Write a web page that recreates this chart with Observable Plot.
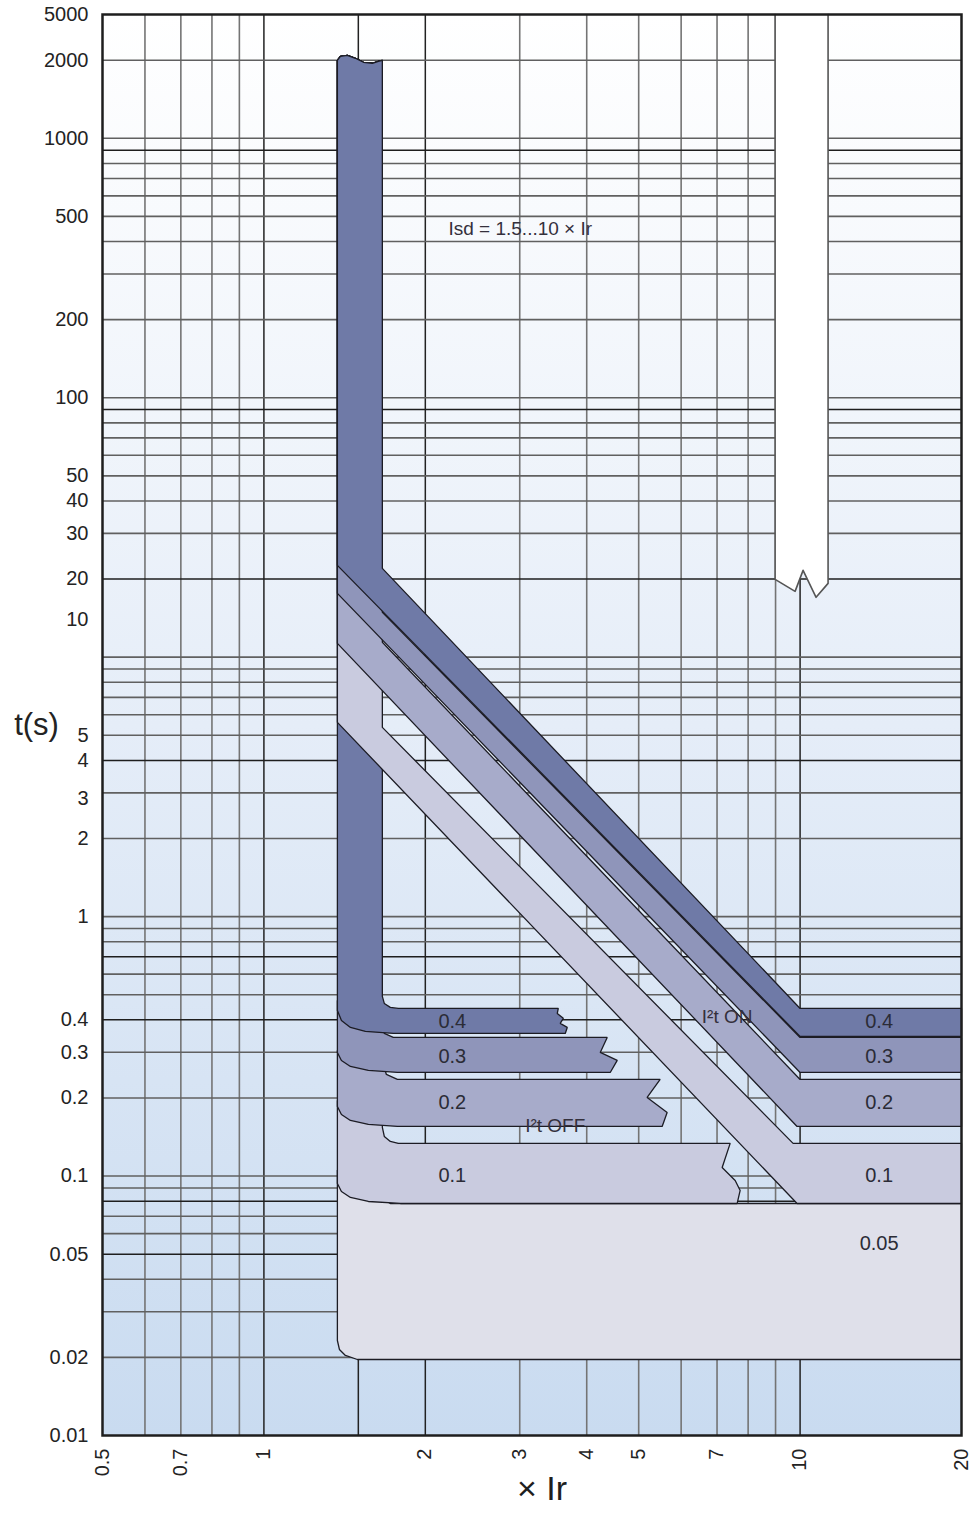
<!DOCTYPE html>
<html><head><meta charset="utf-8">
<script src="https://cdn.jsdelivr.net/npm/d3@7"></script>
<script src="https://cdn.jsdelivr.net/npm/@observablehq/plot@0.6"></script>
<style>
html,body{margin:0;padding:0;background:#fff;overflow:hidden}
#chart svg{display:block}
</style></head><body><div id="chart"></div>
<script>
// ---- axes / ticks ----
const xTicks = [0.5, 0.7, 1, 2, 3, 4, 5, 7, 10, 20];
const yTickLabels = ["5000","2000","1000","500","200","100","50","40","30","20","10","5","4","3","2","1","0.4","0.3","0.2","0.1","0.05","0.02","0.01"];
const yTickAt =     [3000, 2000, 1000, 500, 200, 100, 50, 40, 30, 20, 13.9, 5, 4, 2.86, 2, 1, 0.4, 0.3, 0.2, 0.1, 0.05, 0.02, 0.01];
const gridXMinor = [0.6, 0.7, 0.8, 0.9, 3, 4, 5, 6, 7, 8, 9];
const gridXMajor = [1, 1.5, 2, 10];
const gridYMinor = [2000,1000,800,700,600,500,400,300,200,100,80,70,60,50,40,30,10,9,8,7,6,5,3,2,1,0.9,0.8,0.6,0.5,0.3,0.2,0.1,0.09,0.07,0.06,0.04,0.03,0.02];
const gridYMajor = [900,90,20,4,0.7,0.4,0.08,0.05];

// ---- shapes (x = multiple of Ir, y = seconds) ----
const waveTop = [[1.371,1998],[1.389,2070],[1.431,2089],[1.481,2034],[1.533,1963],[1.593,1946],[1.635,1981],[1.663,1998]];
const isdMaxBar = [[8.983,3000],[8.983,19.95],[9.787,17.93],[10.129,21.61],[10.711,17.01],[11.277,19.25],[11.277,3000]];
const band005 = [[1.371,0.1051],[1.371,0.02324],[1.383,0.02146],[1.419,0.02035],[1.494,0.01963],[20,0.01963],[20,0.0784],[1.721,0.0784],[1.371,0.1051]];
const band01Off = [[1.663,0.1957],[1.663,0.1539],[1.677,0.1421],[1.721,0.1360],[1.781,0.1336],[7.406,0.1336],[7.156,0.1079],[7.567,0.0962],[7.731,0.0880],[7.632,0.0784],[1.797,0.0784],[1.566,0.0798],[1.450,0.0827],[1.395,0.0872],[1.371,0.0936],[1.371,0.1957],[1.663,0.1957]];
const band02Off = [[1.663,0.3050],[1.663,0.2790],[1.692,0.2464],[1.774,0.2357],[5.483,0.2357],[5.185,0.2010],[5.650,0.1759],[5.530,0.1553],[1.774,0.1553],[1.566,0.1581],[1.450,0.1638],[1.395,0.1728],[1.371,0.1855],[1.371,0.3050],[1.663,0.3050]];
const band03Off = [[1.663,0.4753],[1.663,0.3980],[1.677,0.3546],[1.743,0.3422],[4.368,0.3422],[4.239,0.2996],[4.560,0.2790],[4.425,0.2508],[1.774,0.2508],[1.566,0.2553],[1.450,0.2646],[1.395,0.2790],[1.371,0.2996],[1.371,0.4753],[1.663,0.4753]];
const band04OffRest = [[1.663,0.4925],[1.677,0.4628],[1.721,0.4467],[1.781,0.4427],[3.540,0.4427],[3.525,0.4236],[3.617,0.4053],[3.570,0.3875],[3.679,0.3740],[3.648,0.3546],[1.743,0.3546],[1.546,0.3609],[1.450,0.3740],[1.395,0.3980],[1.371,0.4350],[1.371,1998]];
const band01OnRest = [[1.663,5.363],[9.704,0.1336],[20,0.1336],[20,0.0784],[9.872,0.0784],[1.371,5.607],[1.371,1998]];
const band02OnRest = [[1.663,11.41],[10,0.2357],[20,0.2357],[20,0.1553],[9.872,0.1553],[1.371,11.30],[1.371,1998]];
const band03OnRest = [[1.663,14.88],[10,0.3422],[20,0.3422],[20,0.2508],[10,0.2508],[1.371,17.62],[1.371,1998]];
const band04OnRest = [[1.663,21.99],[10,0.4427],[20,0.4427],[20,0.3453],[10,0.3453],[1.371,22.59],[1.371,1998]];

const bandColors = {"0.4":"#6f7aa7","0.3":"#8f95ba","0.2":"#a7abca","0.1":"#c9cbdf","0.05":"#dfe0ea"};

// ---- labels ----
const offLabelText = ["0.4","0.3","0.2","0.1"];
const offLabelY = [0.3945, 0.2891, 0.1922, 0.1005];
const offLabelX = 2.246;
const onLabelText = ["0.4","0.3","0.2","0.1","0.05"];
const onLabelY = [0.3945, 0.2891, 0.1922, 0.1005, 0.0550];
const onLabelX = 14.04;
const notes = [
  {text: "I²t OFF", x: 3.494, y: 0.1567},
  {text: "I²t ON", x: 7.311, y: 0.4088},
  {text: "Isd = 1.5...10 × Ir", x: 3.007, y: 445.9}
];
const yTitle = "t(s)";
const xTitle = "× Ir";

// ---- build ----
const layers = [
  {s: "0.05", pts: band005},
  {s: "0.1", pts: band01Off},
  {s: "0.2", pts: band02Off},
  {s: "0.3", pts: band03Off},
  {s: "0.4", pts: [...waveTop, ...band04OffRest]},
  {s: "0.1", pts: [...waveTop, ...band01OnRest]},
  {s: "0.2", pts: [...waveTop, ...band02OnRest]},
  {s: "0.3", pts: [...waveTop, ...band03OnRest]},
  {s: "0.4", pts: [...waveTop, ...band04OnRest]}
];
const labelOf = new Map(yTickAt.map((v, i) => [v, yTickLabels[i]]));
const bandLabels = [
  ...offLabelText.map((t, i) => ({text: t, x: offLabelX, y: offLabelY[i]})),
  ...onLabelText.map((t, i) => ({text: t, x: onLabelX, y: onLabelY[i]}))
];

const defs = () => {
  const d = d3.create("svg:defs");
  const g = d.append("linearGradient").attr("id", "bgGrad").attr("x1", 0).attr("y1", 0).attr("x2", 0).attr("y2", 1);
  g.append("stop").attr("offset", "0%").attr("stop-color", "#ffffff");
  g.append("stop").attr("offset", "50%").attr("stop-color", "#e5edf8");
  g.append("stop").attr("offset", "100%").attr("stop-color", "#c9dbf0");
  return d.node();
};

const ink = "#232323";
const chart = Plot.plot({
  width: 978,
  height: 1517,
  marginLeft: 102,
  marginRight: 17,
  marginTop: 14,
  marginBottom: 82,
  style: {fontFamily: "'Liberation Sans', Arial, sans-serif", color: ink, background: "white", overflow: "visible"},
  x: {type: "log", domain: [0.5, 20], axis: null},
  y: {type: "log", domain: [0.01, 3000]},
  marks: [
    defs,
    Plot.frame({fill: "url(#bgGrad)", stroke: "none"}),
    Plot.ruleX(gridXMinor, {stroke: "#747474", strokeWidth: 1.6}),
    Plot.ruleX(gridXMajor, {stroke: "#222", strokeWidth: 1.5}),
    Plot.ruleY(gridYMinor, {stroke: "#606060", strokeWidth: 1.6}),
    Plot.ruleY(gridYMajor, {stroke: "#1e1e1e", strokeWidth: 1.5}),
    Plot.line(isdMaxBar, {x: d => d[0], y: d => d[1], fill: "white", stroke: "#555", strokeWidth: 1.6}),
    ...layers.map(l => Plot.line(l.pts, {x: d => d[0], y: d => d[1], fill: bandColors[l.s], stroke: "#1c1c24", strokeWidth: 1.3, strokeLinejoin: "miter"})),
    Plot.text(bandLabels, {x: "x", y: "y", text: "text", fontSize: 20, fill: "#2b2c36"}),
    Plot.text(notes, {x: "x", y: "y", text: "text", fontSize: 19, fill: "#34303c"}),
    Plot.frame({stroke: "#1e1e1e", strokeWidth: 2.5}),
    Plot.axisY(yTickAt, {tickSize: 0, tickPadding: 14, fontSize: 20, tickFormat: d => labelOf.get(d), label: null}),
    Plot.text(xTicks, {x: d => d, frameAnchor: "bottom", rotate: -90, textAnchor: "end", dx: 6, dy: 13, fontSize: 20, fill: ink, text: d => String(d)}),
    Plot.text([yTitle], {frameAnchor: "left", textAnchor: "middle", dx: -66, fontSize: 31, fill: ink, text: d => d}),
    Plot.text([xTitle], {frameAnchor: "bottom", textAnchor: "middle", dx: 10, dy: 64, fontSize: 34, fill: "#1e1e1e", text: d => d})
  ]
});
document.getElementById("chart").appendChild(chart);
</script></body></html>
